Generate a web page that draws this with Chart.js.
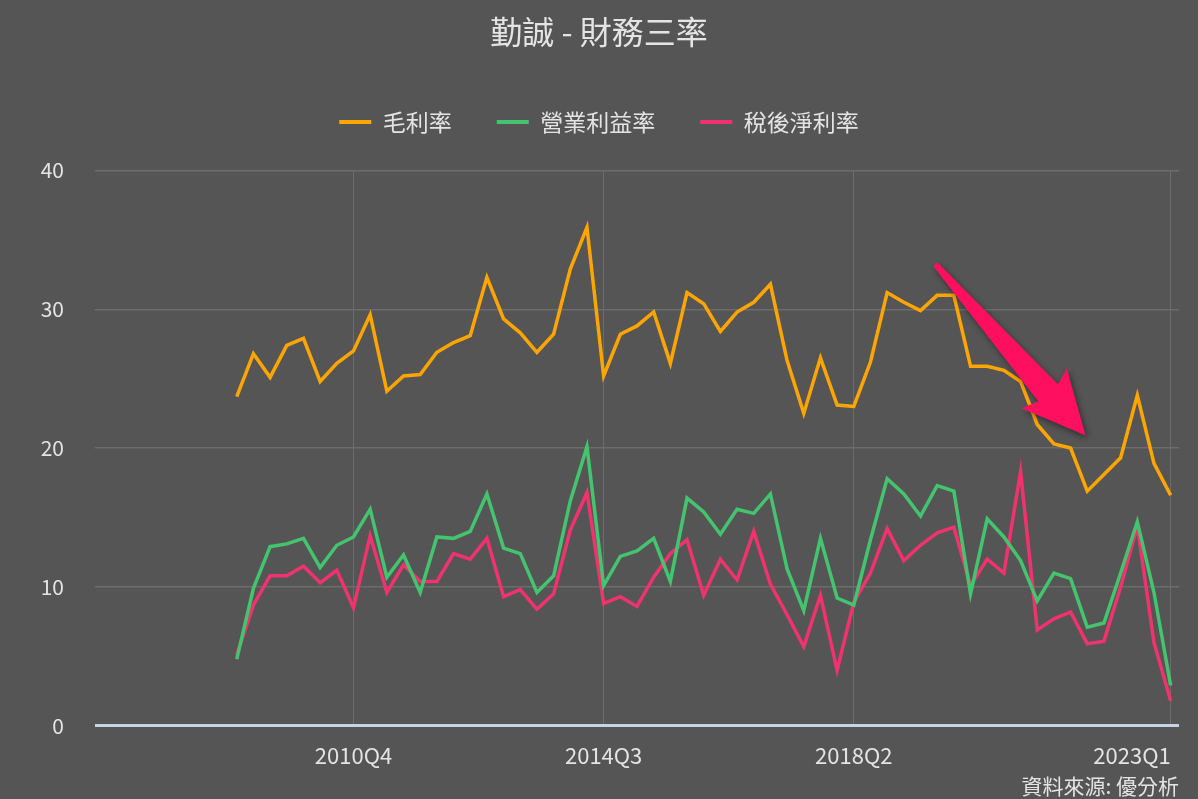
<!DOCTYPE html>
<html>
<head>
<meta charset="utf-8">
<script src="https://cdn.jsdelivr.net/npm/chart.js@4.4.0/dist/chart.umd.min.js"></script>
<style>
  html, body { margin: 0; padding: 0; background: #555555; }
  #wrap { width: 1198px; height: 799px; }
</style>
</head>
<body>
<div id="wrap"><canvas id="ratioChart"></canvas></div>
<script>
// quarters 2009Q1 .. 2023Q1
var quarters = [
    '2009Q1', '2009Q2', '2009Q3', '2009Q4', '2010Q1', '2010Q2', '2010Q3', '2010Q4',
    '2011Q1', '2011Q2', '2011Q3', '2011Q4', '2012Q1', '2012Q2', '2012Q3', '2012Q4',
    '2013Q1', '2013Q2', '2013Q3', '2013Q4', '2014Q1', '2014Q2', '2014Q3', '2014Q4',
    '2015Q1', '2015Q2', '2015Q3', '2015Q4', '2016Q1', '2016Q2', '2016Q3', '2016Q4',
    '2017Q1', '2017Q2', '2017Q3', '2017Q4', '2018Q1', '2018Q2', '2018Q3', '2018Q4',
    '2019Q1', '2019Q2', '2019Q3', '2019Q4', '2020Q1', '2020Q2', '2020Q3', '2020Q4',
    '2021Q1', '2021Q2', '2021Q3', '2021Q4', '2022Q1', '2022Q2', '2022Q3', '2022Q4',
    '2023Q1'
];

var grossMargin = [
    23.7, 26.8, 25.1, 27.4, 27.9, 24.8, 26.1, 27.0, 29.6, 24.1, 25.2, 25.3, 26.9, 27.6, 28.1, 32.3,
    29.3, 28.3, 26.9, 28.2, 32.9, 35.9, 25.2, 28.2, 28.8, 29.8, 26.1, 31.2, 30.4, 28.4, 29.8, 30.5,
    31.8, 26.3, 22.5, 26.5, 23.1, 23.0, 26.2, 31.2, 30.5, 29.9, 31.0, 31.0, 25.9, 25.9, 25.6, 24.8,
    21.7, 20.3, 20.0, 16.9, 18.1, 19.3, 23.8, 18.9, 16.6
];

var operatingMargin = [
    4.8, 9.9, 12.9, 13.1, 13.5, 11.4, 13.0, 13.6, 15.6, 10.7, 12.3, 9.6, 13.6, 13.5, 14.0, 16.7,
    12.8, 12.4, 9.6, 10.8, 16.2, 20.1, 10.1, 12.2, 12.6, 13.5, 10.4, 16.4, 15.4, 13.8, 15.6, 15.3,
    16.7, 11.3, 8.3, 13.5, 9.2, 8.7, 13.4, 17.8, 16.7, 15.1, 17.3, 16.9, 9.5, 14.9, 13.6, 11.9,
    9.0, 11.0, 10.6, 7.1, 7.4, 11.0, 14.7, 9.6, 2.9
];

var netMargin = [
    5.1, 8.7, 10.8, 10.8, 11.5, 10.3, 11.2, 8.5, 13.7, 9.6, 11.6, 10.4, 10.4, 12.4, 12.0, 13.5,
    9.3, 9.8, 8.4, 9.5, 14.1, 16.8, 8.8, 9.3, 8.6, 10.7, 12.4, 13.4, 9.4, 12.0, 10.5, 14.0,
    10.2, 8.0, 5.7, 9.4, 4.0, 8.9, 11.0, 14.2, 11.9, 13.0, 13.9, 14.3, 10.1, 12.0, 11.0, 18.3,
    6.9, 7.7, 8.2, 5.9, 6.1, 10.0, 14.4, 6.0, 1.8
];

var tickQuarters = ['2010Q4', '2014Q3', '2018Q2', '2023Q1'];
var seriesNames = ['毛利率', '營業利益率', '稅後淨利率'];
var seriesColors = ['#ffa500', '#44c46e', '#f0336f'];

// arrow annotation, in data units (quarter index, percent)
var arrowFrom = { x: 42.0, y: 33.1 };
var arrowTo = { x: 50.9, y: 20.9 };

var textColor = '#e4e4e4';
var gridColor = '#6c6c6c';
var fontFamily = '"Noto Sans CJK TC", "Noto Sans", sans-serif';

function toPoints(values) {
    var pts = [];
    for (var i = 0; i < values.length; i++) {
        pts.push({ x: i, y: values[i] });
    }
    return pts;
}

var arrowPlugin = {
    id: 'arrowNote',
    afterDatasetsDraw: function(chart) {
        var ctx = chart.ctx;
        var xs = chart.scales.x, ys = chart.scales.y;
        var x0 = xs.getPixelForValue(arrowFrom.x), y0 = ys.getPixelForValue(arrowFrom.y);
        var x1 = xs.getPixelForValue(arrowTo.x), y1 = ys.getPixelForValue(arrowTo.y);
        var len = Math.sqrt((x1 - x0) * (x1 - x0) + (y1 - y0) * (y1 - y0));
        var ang = Math.atan2(y1 - y0, x1 - x0);
        var headLen = len * 0.27;
        var base = len - headLen;

        ctx.save();
        ctx.translate(x0, y0);
        ctx.rotate(ang);
        ctx.shadowColor = 'rgba(0,0,0,0.45)';
        ctx.shadowBlur = 6;
        ctx.shadowOffsetX = 2;
        ctx.shadowOffsetY = 3;
        ctx.fillStyle = '#ff0f5f';
        ctx.beginPath();
        ctx.arc(0, 0, 3, Math.PI / 2, Math.PI * 1.5);
        ctx.lineTo(base + 4, -13);
        ctx.lineTo(base - 2, -30);
        ctx.lineTo(len, 0);
        ctx.lineTo(base - 2, 30);
        ctx.lineTo(base + 4, 13);
        ctx.closePath();
        ctx.fill();
        ctx.restore();
    }
};

// push the plot area down a bit below the legend
var legendGap = {
    id: 'legendGap',
    beforeInit: function(chart) {
        var origFit = chart.legend.fit;
        chart.legend.fit = function() {
            origFit.bind(chart.legend)();
            this.height += 27;
        };
    }
};

var datasets = [];
var seriesValues = [grossMargin, operatingMargin, netMargin];
for (var s = 0; s < seriesValues.length; s++) {
    datasets.push({
        label: seriesNames[s],
        data: toPoints(seriesValues[s]),
        borderColor: seriesColors[s],
        backgroundColor: seriesColors[s],
        borderWidth: 3.5,
        pointRadius: 0,
        pointHoverRadius: 0,
        tension: 0,
        fill: false
    });
}

var xMin = -8.5;
var xMax = 56.5;

var ctx = document.getElementById('ratioChart');
var myChart = new Chart(ctx, {
    type: 'line',
    data: { datasets: datasets },
    options: {
        responsive: true,
        maintainAspectRatio: false,
        animation: false,
        layout: { padding: { left: 19, right: 19, top: 0, bottom: 0 } },
        plugins: {
            title: {
                display: true,
                text: '勤誠 - 財務三率',
                color: textColor,
                font: { family: fontFamily, size: 32, weight: 'normal' },
                padding: { top: 13, bottom: 14 }
            },
            subtitle: {
                display: true,
                text: '資料來源: 優分析',
                position: 'bottom',
                align: 'end',
                color: textColor,
                font: { family: fontFamily, size: 21, weight: 'normal' },
                padding: { top: 0, bottom: 0 }
            },
            legend: {
                labels: {
                    color: textColor,
                    font: { family: fontFamily, size: 23 },
                    boxWidth: 32,
                    boxHeight: 4,
                    padding: 45,
                    generateLabels: function(chart) {
                        var items = Chart.defaults.plugins.legend.labels.generateLabels(chart);
                        items.forEach(function(it) { it.lineWidth = 0; });
                        return items;
                    }
                }
            },
            tooltip: { enabled: false }
        },
        scales: {
            x: {
                type: 'linear',
                min: xMin,
                max: xMax,
                afterBuildTicks: function(scale) {
                    var t = [{ value: xMin }];
                    tickQuarters.forEach(function(q) { t.push({ value: quarters.indexOf(q) }); });
                    scale.ticks = t;
                },
                afterFit: function(scale) { scale.height = 48; },
                ticks: {
                    color: textColor,
                    font: { family: fontFamily, size: 22 },
                    align: 'inner',
                    maxRotation: 0,
                    autoSkip: false,
                    padding: 17,
                    callback: function(value) {
                        return quarters[value] || '';
                    }
                },
                grid: {
                    drawTicks: false,
                    color: function(c) {
                        return c.index === 0 ? 'rgba(0,0,0,0)' : gridColor;
                    }
                },
                border: { display: false }
            },
            y: {
                min: 0,
                max: 40,
                afterFit: function(scale) { scale.width = 76; },
                ticks: {
                    stepSize: 10,
                    color: textColor,
                    font: { family: fontFamily, size: 21 },
                    padding: 31
                },
                grid: {
                    drawTicks: false,
                    color: function(c) {
                        return c.tick && c.tick.value === 0 ? '#c6d2e6' : gridColor;
                    },
                    lineWidth: function(c) {
                        return c.tick && c.tick.value === 0 ? 3 : 1.5;
                    }
                },
                border: { display: false }
            }
        }
    },
    plugins: [arrowPlugin, legendGap]
});
</script>
</body>
</html>
